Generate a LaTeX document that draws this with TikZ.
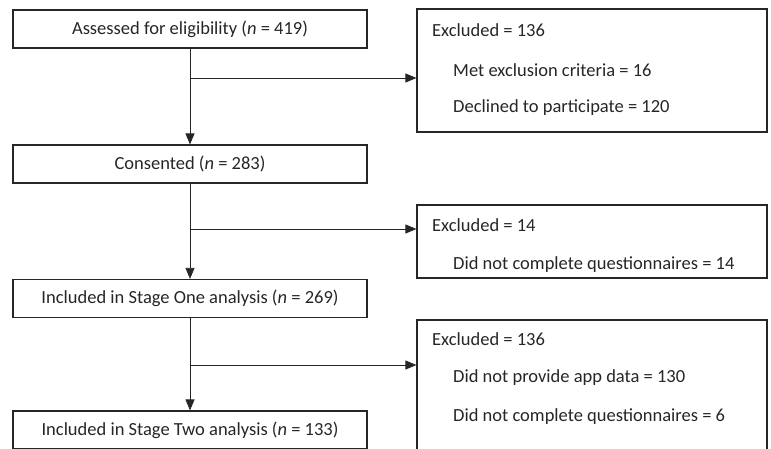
\documentclass[tikz,border=0pt]{standalone}
\usepackage{fontspec}
\setmainfont{Carlito}
\usetikzlibrary{arrows.meta}

\begin{document}
\begin{tikzpicture}[x=1pt, y=-1pt,
    box/.style = {draw=black!85, line width=1.1pt, minimum width=354pt, minimum height=38pt, inner sep=0pt, font=\fontsize{18.5}{20}\selectfont, text=black!85},
    exclbox/.style = {draw=black!85, line width=1.1pt, minimum width=350pt, inner sep=0pt},
    exclline/.style = {anchor=west, inner sep=0pt, font=\fontsize{18.5}{20}\selectfont, text=black!85},
    flow/.style = {draw=black!85, line width=0.7pt, -{Triangle[length=11pt, width=9pt]}}]
    % Frame
    \useasboundingbox (0,0) rectangle (771,449);
    \clip (0,0) rectangle (771,449);

    % Main boxes
    \node[box] (assessed)  at (190,29)    {Assessed for eligibility ({\itshape n} = 419)};
    \node[box] (consented) at (190,164)   {Consented ({\itshape n} = 283)};
    \node[box] (stageone)  at (190,298.5) {Included in Stage One analysis ({\itshape n} = 269)};
    \node[box] (stagetwo)  at (190,430)   {Included in Stage Two analysis ({\itshape n} = 133)};

    % Exclusion boxes
    \node[exclbox, minimum height=123pt] (excla) at (592,70.5)  {};
    \node[exclbox, minimum height=73pt]  (exclb) at (592,241.5) {};
    \node[exclbox, minimum height=150pt] (exclc) at (592,395)   {};

    % Exclusion texts
    \node[exclline] (exclatitle) at (432,30)  {Excluded = 136};
    \node[exclline] (exclaone)   at (453,70)  {Met exclusion criteria = 16};
    \node[exclline] (exclatwo)   at (453,108) {Declined to participate = 120};
    \node[exclline] (exclbtitle) at (432,225) {Excluded = 14};
    \node[exclline] (exclbone)   at (453,265) {Did not complete questionnaires = 14};
    \node[exclline] (exclctitle) at (432,339) {Excluded = 136};
    \node[exclline] (exclcone)   at (453,378) {Did not provide app data = 130};
    \node[exclline] (exclctwo)   at (453,417) {Did not complete questionnaires = 6};

    % Branch points
    \coordinate (brancha) at (190,78);
    \coordinate (branchb) at (190,229);
    \coordinate (branchc) at (190,365);

    % Connectors
    \draw[flow] (assessed) -- (consented);
    \draw[flow] (consented) -- (stageone);
    \draw[flow] (stageone) -- (stagetwo);
    \draw[flow] (brancha) -- (brancha -| excla.west);
    \draw[flow] (branchb) -- (branchb -| exclb.west);
    \draw[flow] (branchc) -- (branchc -| exclc.west);
\end{tikzpicture}
\end{document}
